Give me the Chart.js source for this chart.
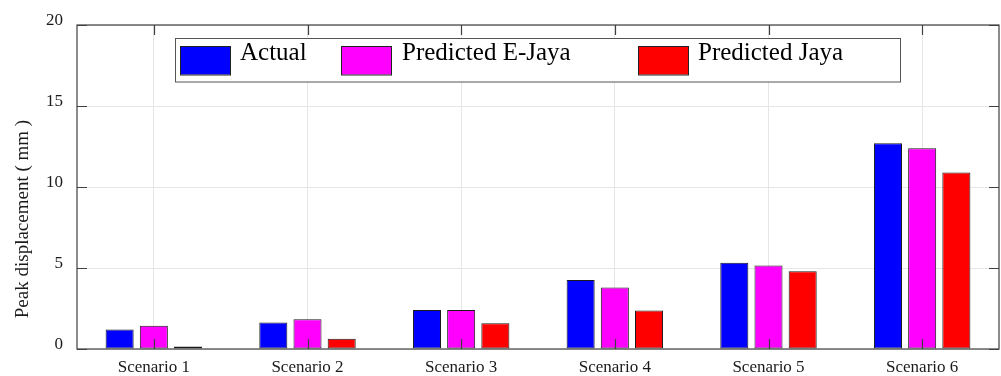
<!DOCTYPE html>
<html>
<head>
<meta charset="utf-8">
<script src="https://cdn.jsdelivr.net/npm/chart.js@4.4.1/dist/chart.umd.min.js"></script>
<style>
  html, body { margin: 0; padding: 0; background: #fff; }
  #wrap { width: 1001px; height: 376px; }
</style>
</head>
<body>
<div id="wrap"><canvas id="peakChart" width="1001" height="376"></canvas></div>
<script>
// peak displacement per scenario (mm)
const scenarios = ['Scenario 1', 'Scenario 2', 'Scenario 3', 'Scenario 4', 'Scenario 5', 'Scenario 6'];
const actual = [1.20, 1.63, 2.41, 4.26, 5.33, 12.70];
const predictedEJaya = [1.44, 1.83, 2.41, 3.79, 5.15, 12.39];
const predictedJaya = [0.15, 0.64, 1.59, 2.37, 4.80, 10.89];
const yTicks = [0, 5, 10, 15, 20];
const yTitle = 'Peak displacement ( mm )';

const serif = "'Liberation Serif', 'Times New Roman', serif";
const axisColor = '#404040';

// box around the axes, inward tick marks, boxed legend and y label
const framePlugin = {
  id: 'frame',
  afterDatasetsDraw(chart) {
    const ctx = chart.ctx;
    const a = chart.chartArea;
    const xs = chart.scales.x, ys = chart.scales.y;
    const tickLen = 10;
    ctx.save();
    ctx.strokeStyle = axisColor;
    ctx.lineWidth = 1.2;
    ctx.strokeRect(a.left, a.top, a.right - a.left, a.bottom - a.top);

    ctx.beginPath();
    scenarios.forEach((s, i) => {
      const x = Math.round(xs.getPixelForValue(i)) + 0.5;
      ctx.moveTo(x, a.bottom); ctx.lineTo(x, a.bottom - tickLen);
      ctx.moveTo(x, a.top); ctx.lineTo(x, a.top + tickLen);
    });
    yTicks.forEach(v => {
      const y = Math.round(ys.getPixelForValue(v)) + 0.5;
      ctx.moveTo(a.left, y); ctx.lineTo(a.left + tickLen, y);
      ctx.moveTo(a.right, y); ctx.lineTo(a.right - tickLen, y);
    });
    ctx.stroke();

    // legend box
    ctx.fillStyle = '#fff';
    ctx.fillRect(175.5, 38.5, 725, 43.5);
    ctx.strokeStyle = '#555';
    ctx.lineWidth = 1;
    ctx.strokeRect(175.5, 38.5, 725, 43.5);
    const swatchX = [180, 341, 638];
    const textX = [240, 402, 698];
    ctx.font = '25px ' + serif;
    ctx.textBaseline = 'alphabetic';
    ctx.textAlign = 'left';
    chart.data.datasets.forEach((ds, i) => {
      ctx.fillStyle = ds.backgroundColor;
      ctx.fillRect(swatchX[i], 46, 50, 28.5);
      ctx.strokeStyle = '#222';
      ctx.strokeRect(swatchX[i] + 0.5, 46.5, 50, 28.5);
      ctx.fillStyle = '#000';
      ctx.fillText(ds.label, textX[i], 60);
    });

    // y axis label
    ctx.translate(23, 219);
    ctx.rotate(-Math.PI / 2);
    ctx.textAlign = 'center';
    ctx.textBaseline = 'middle';
    ctx.font = '19px ' + serif;
    ctx.fillStyle = '#1a1a1a';
    ctx.fillText(yTitle, 0, 0);
    ctx.restore();
  }
};

const barStyle = {
  borderColor: '#1a1a1a', borderWidth: 1, borderSkipped: false,
  categoryPercentage: 0.6675, barPercentage: 0.82
};

new Chart(document.getElementById('peakChart').getContext('2d'), {
  type: 'bar',
  data: {
    labels: scenarios,
    datasets: [
      Object.assign({ label: 'Actual', data: actual, backgroundColor: '#0000ff' }, barStyle),
      Object.assign({ label: 'Predicted E-Jaya', data: predictedEJaya, backgroundColor: '#ff00ff' }, barStyle),
      Object.assign({ label: 'Predicted Jaya', data: predictedJaya, backgroundColor: '#ff0000' }, barStyle)
    ]
  },
  options: {
    responsive: false,
    animation: false,
    devicePixelRatio: 1,
    layout: { padding: { left: 0, right: 2, top: 25, bottom: 0 } },
    plugins: {
      legend: { display: false },
      tooltip: { enabled: false }
    },
    scales: {
      x: {
        offset: true,
        grid: { offset: false, color: '#e6e6e6', lineWidth: 1, drawTicks: false },
        border: { display: false },
        ticks: { color: '#1a1a1a', font: { family: serif, size: 17 }, padding: 8, maxRotation: 0 },
        afterFit: s => { s.height = 27; }
      },
      y: {
        min: 0,
        max: 20,
        grid: { color: '#e6e6e6', lineWidth: 1, drawTicks: false },
        border: { display: false },
        ticks: { color: '#1a1a1a', font: { family: serif, size: 17 }, padding: 14, labelOffset: -4 },
        afterBuildTicks: s => { s.ticks = yTicks.map(v => ({ value: v })); },
        afterFit: s => { s.width = 77; }
      }
    }
  },
  plugins: [framePlugin]
});
</script>
</body>
</html>
